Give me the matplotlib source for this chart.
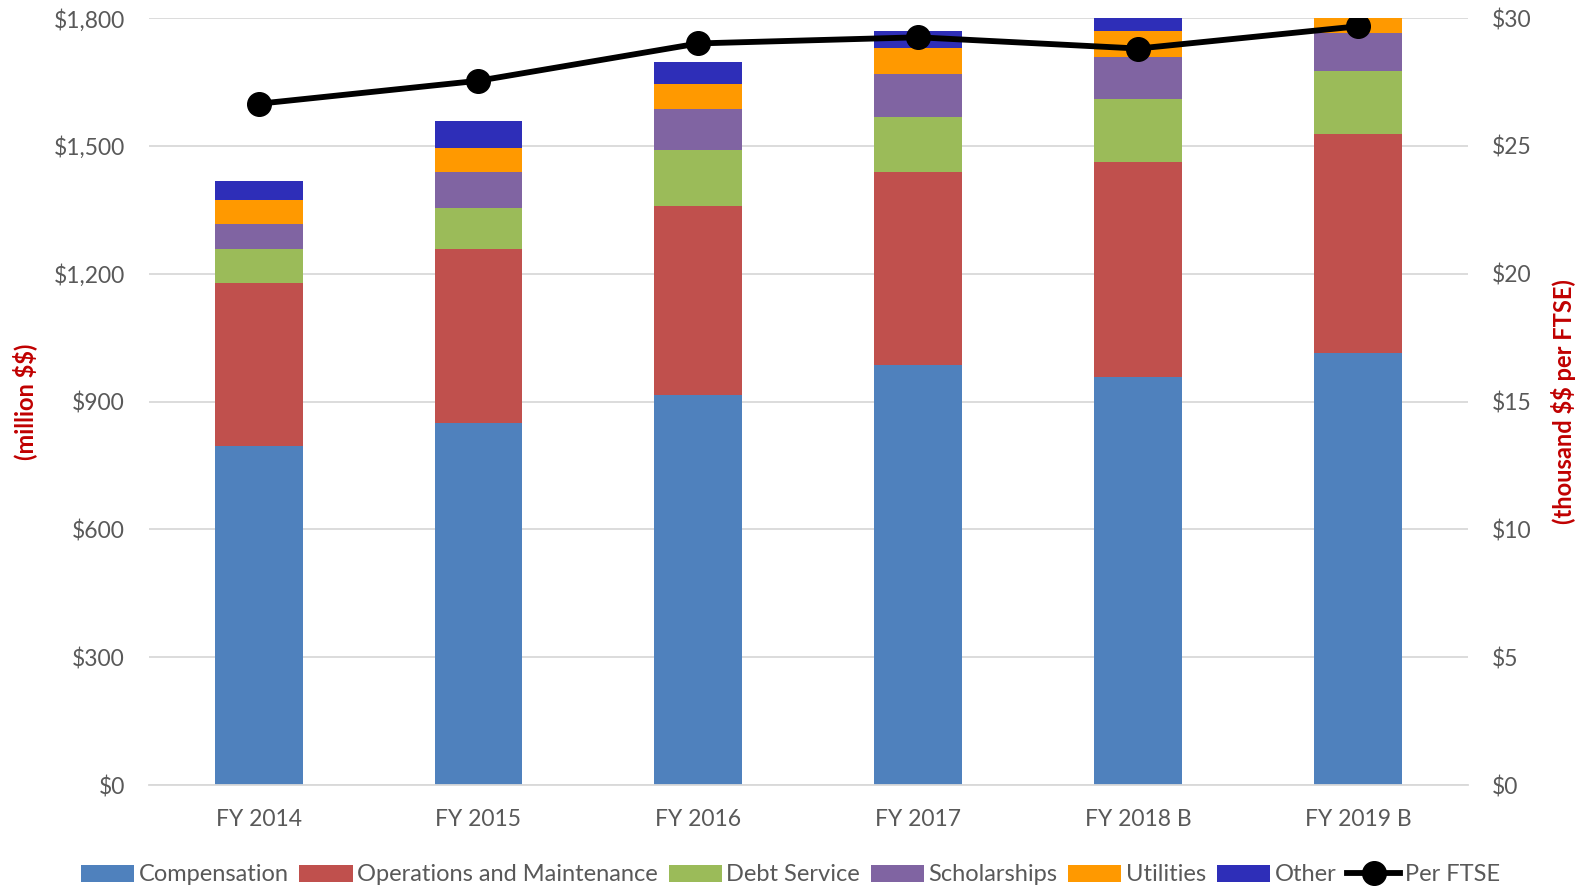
import matplotlib.pyplot as plt
import numpy as np
from matplotlib.ticker import FuncFormatter

plt.rcParams['font.family'] = ['Lato', 'DejaVu Sans']
plt.rcParams['text.parse_math'] = False

years = ["FY 2014", "FY 2015", "FY 2016", "FY 2017", "FY 2018 B", "FY 2019 B"]

# million $$ per category
compensation = [795, 849, 915, 986, 958, 1015]
operations = [383, 409, 445, 452, 504, 513]
debt_service = [80, 97, 130, 130, 149, 149]
scholarships = [59, 83, 97, 102, 97, 87]
utilities = [57, 57, 59, 59, 61, 40]
other = [43, 64, 52, 40, 45, 30]

# thousand $$ per FTSE
per_ftse = [26.65, 27.55, 29.01, 29.25, 28.81, 29.68]

series = [
    ("Compensation", compensation, "#4F81BD"),
    ("Operations and Maintenance", operations, "#C0504D"),
    ("Debt Service", debt_service, "#9BBB59"),
    ("Scholarships", scholarships, "#8064A2"),
    ("Utilities", utilities, "#FF9900"),
    ("Other", other, "#2E2EB8"),
]

grey = "#595959"
red = "#C00000"

fig, ax = plt.subplots(figsize=(15.81, 8.88), dpi=100)
fig.subplots_adjust(left=0.094, right=0.9286, top=0.9796, bottom=0.1158)

x = np.arange(len(years))
bottom = np.zeros(len(years))
for name, vals, col in series:
    ax.bar(x, vals, 0.4, bottom=bottom, color=col, label=name, zorder=2)
    bottom += np.array(vals)

ax.set_xlim(-0.5, 5.5)
ax.set_ylim(0, 1800)
ax.set_yticks(np.arange(0, 1801, 300))
ax.yaxis.set_major_formatter(FuncFormatter(lambda v, p: "${:,.0f}".format(v)))
ax.set_xticks(x)
ax.set_xticklabels(years)
ax.grid(axis="y", color="#D9D9D9", linewidth=1.3, zorder=0)
ax.set_axisbelow(True)
for s in ["top", "right", "left"]:
    ax.spines[s].set_visible(False)
ax.spines["bottom"].set_color("#D9D9D9")
ax.spines["bottom"].set_linewidth(1.3)
ax.tick_params(axis="y", length=0, labelsize=16.5, labelcolor=grey, pad=17)
ax.tick_params(axis="x", length=0, labelsize=16.5, labelcolor=grey, pad=17)
ax.set_ylabel("(million $$)", color=red, fontsize=17, fontweight="bold", labelpad=12)

ax2 = ax.twinx()
ax2.plot(x, per_ftse, color="black", linewidth=4.2, marker="o", markersize=17,
         label="Per FTSE", zorder=5)
ax2.set_ylim(0, 30)
ax2.set_yticks(np.arange(0, 31, 5))
ax2.yaxis.set_major_formatter(FuncFormatter(lambda v, p: "${:,.0f}".format(v)))
for s in ax2.spines.values():
    s.set_visible(False)
ax2.tick_params(axis="y", length=0, labelsize=16.5, labelcolor=grey, pad=17)
ax2.set_ylabel("(thousand $$ per FTSE)", color=red, fontsize=17, fontweight="bold",
               rotation=90, labelpad=14)

h1, l1 = ax.get_legend_handles_labels()
h2, l2 = ax2.get_legend_handles_labels()
leg = fig.legend(h1 + h2, l1 + l2, loc="lower center", bbox_to_anchor=(0.5, -0.021),
                 ncol=7, frameon=False, fontsize=17, handlelength=2.25, handleheight=0.75,
                 handletextpad=0.2, columnspacing=0.45)
for t in leg.get_texts():
    t.set_color(grey)

fig.savefig("out.png", dpi=100)
